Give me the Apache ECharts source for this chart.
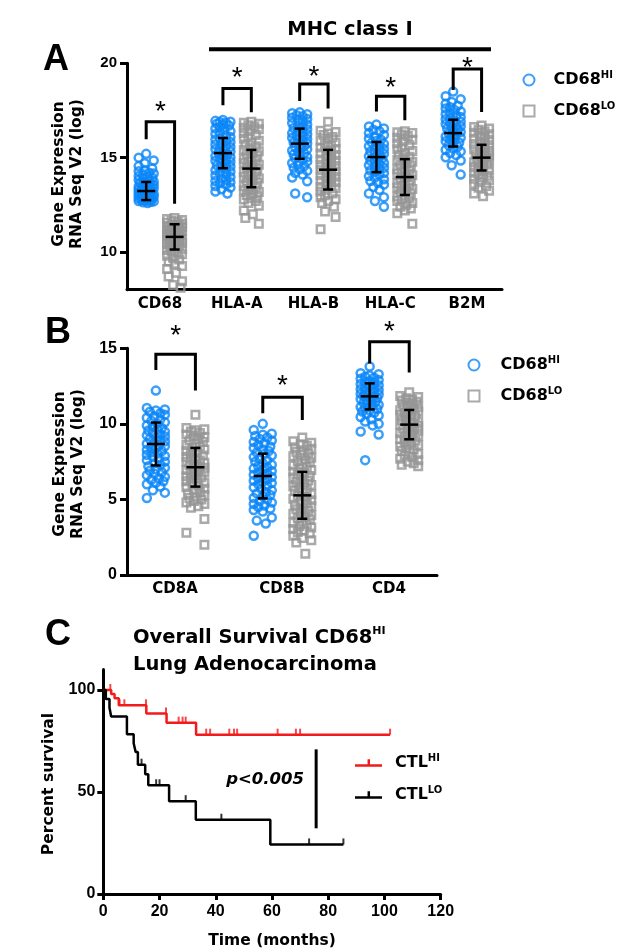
<!DOCTYPE html>
<html><head><meta charset="utf-8">
<script src="https://cdn.jsdelivr.net/npm/echarts@6/dist/echarts.min.js"></script>
<style>html,body{margin:0;padding:0;background:#fff}#c{width:619px;height:951px}</style>
</head><body><div id="c"></div>
<script>
// ================= DATA =================
// Panel A: MHC class I / CD68 expression (log RNA-seq)
const catsA = ['CD68', 'HLA-A', 'HLA-B', 'HLA-C', 'B2M'];
const hiCD68 = [15.2,15.0,14.85,14.7,14.55,14.42,14.35,14.28,14.2,14.16,14.1,14.02,13.97,13.93,13.88,13.82,13.79,13.74,13.7,13.66,13.63,13.58,13.55,13.51,13.47,13.44,13.41,13.37,13.34,13.31,13.29,13.26,13.23,13.2,13.18,13.15,13.13,13.1,13.07,13.05,13.02,13.0,12.97,12.95,12.93,12.9,12.88,12.85,12.83,12.8,12.78,12.75,12.73,12.7,12.68,12.66,12.63,12.6];
const loCD68 = [11.8,11.75,11.7,11.66,11.6,11.55,11.5,11.46,11.43,11.38,11.35,11.31,11.27,11.24,11.2,11.17,11.13,11.1,11.07,11.03,11.0,10.97,10.93,10.9,10.86,10.83,10.8,10.76,10.72,10.69,10.65,10.62,10.58,10.54,10.5,10.46,10.42,10.37,10.33,10.28,10.22,10.16,10.1,10.03,9.96,9.88,9.8,9.7,9.6,9.5,9.38,9.25,9.1,8.9,8.7,8.45,8.25,8.1];
const hiHLAA = [17.0,16.95,16.9,16.88,16.85,16.8,16.75,16.7,16.62,16.55,16.48,16.4,16.32,16.25,16.18,16.1,16.03,15.96,15.9,15.83,15.76,15.7,15.63,15.57,15.5,15.44,15.38,15.32,15.26,15.2,15.14,15.08,15.02,14.96,14.9,14.84,14.78,14.72,14.66,14.6,14.53,14.46,14.4,14.33,14.26,14.19,14.12,14.05,13.98,13.9,13.83,13.76,13.7,13.64,13.58,13.5,13.42,13.32,13.2,13.1];
const loHLAA = [16.9,16.85,16.8,16.72,16.65,16.58,16.5,16.4,16.3,16.2,16.1,16.0,15.9,15.8,15.7,15.6,15.5,15.42,15.34,15.26,15.18,15.1,15.02,14.94,14.86,14.78,14.7,14.62,14.54,14.46,14.38,14.3,14.22,14.14,14.06,13.98,13.9,13.82,13.74,13.66,13.58,13.5,13.42,13.34,13.26,13.18,13.1,13.02,12.94,12.86,12.78,12.7,12.6,12.45,12.2,12.0,11.8,11.5];
const hiHLAB = [17.4,17.35,17.3,17.25,17.2,17.12,17.05,16.98,16.9,16.84,16.76,16.7,16.63,16.57,16.5,16.44,16.37,16.3,16.24,16.18,16.12,16.05,15.99,15.93,15.87,15.8,15.75,15.69,15.62,15.56,15.5,15.44,15.38,15.3,15.24,15.17,15.1,15.03,14.96,14.88,14.8,14.72,14.64,14.55,14.47,14.38,14.3,14.2,14.1,13.95,13.75,13.1,12.9];
const loHLAB = [16.9,16.42,16.36,16.28,16.2,16.1,16.0,15.9,15.8,15.7,15.62,15.54,15.46,15.38,15.3,15.22,15.14,15.06,14.98,14.9,14.83,14.76,14.69,14.62,14.55,14.48,14.41,14.34,14.27,14.2,14.13,14.06,13.99,13.92,13.85,13.78,13.7,13.62,13.54,13.46,13.38,13.3,13.2,13.1,13.0,12.9,12.8,12.7,12.6,12.4,12.15,11.85,11.2];
const hiHLAC = [16.75,16.65,16.55,16.48,16.4,16.3,16.2,16.1,16.02,15.95,15.88,15.8,15.73,15.66,15.6,15.53,15.46,15.4,15.33,15.27,15.2,15.14,15.08,15.02,14.96,14.9,14.84,14.78,14.72,14.66,14.6,14.53,14.46,14.39,14.32,14.25,14.18,14.1,14.02,13.94,13.85,13.76,13.67,13.58,13.45,13.3,13.1,12.9,12.7,12.4];
const loHLAC = [16.4,16.35,16.3,16.22,16.15,16.05,15.95,15.85,15.75,15.65,15.55,15.45,15.35,15.25,15.15,15.05,14.96,14.87,14.78,14.7,14.62,14.54,14.46,14.38,14.3,14.22,14.14,14.06,13.98,13.9,13.82,13.74,13.66,13.58,13.5,13.42,13.34,13.26,13.18,13.1,13.02,12.94,12.86,12.78,12.7,12.6,12.5,12.4,12.3,12.2,12.05,11.5];
const hiB2M = [18.5,18.25,18.1,17.95,17.85,17.75,17.67,17.6,17.52,17.45,17.38,17.3,17.23,17.16,17.1,17.03,16.97,16.9,16.84,16.78,16.72,16.66,16.6,16.54,16.48,16.42,16.36,16.3,16.24,16.18,16.12,16.06,16.0,15.94,15.87,15.8,15.73,15.66,15.58,15.5,15.42,15.33,15.24,15.14,15.02,14.85,14.6,14.1];
const loB2M = [16.7,16.62,16.55,16.48,16.4,16.32,16.24,16.16,16.08,16.0,15.93,15.86,15.79,15.72,15.65,15.58,15.51,15.44,15.37,15.3,15.24,15.18,15.12,15.06,15.0,14.94,14.88,14.82,14.76,14.7,14.63,14.56,14.49,14.42,14.35,14.28,14.2,14.12,14.04,13.96,13.88,13.8,13.7,13.6,13.5,13.4,13.25,13.1,12.95];
const hiMeanA = [13.23, 15.24, 15.74, 15.03, 16.30];
const hiSdA   = [0.48, 0.80, 0.80, 0.80, 0.71];
const loMeanA = [10.80, 14.42, 14.36, 13.97, 15.00];
const loSdA   = [0.67, 0.99, 1.05, 0.95, 0.68];
// bracket: [top, left leg end, right leg end, asterisk]
const bracketA = [[16.9,15.97,12.56,17.7],[18.66,17.77,17.4,19.5],[18.9,18.0,17.6,19.6],[18.25,17.45,16.98,19.0],[19.7,18.58,17.42,20.03]];
const ticksA = [10, 15, 20];

// Panel B: T-cell markers
const catsB = ['CD8A', 'CD8B', 'CD4'];
const hiCD8A = [12.2,11.05,10.95,10.88,10.8,10.7,10.6,10.5,10.4,10.3,10.2,10.1,10.0,9.9,9.8,9.72,9.64,9.56,9.48,9.4,9.32,9.24,9.16,9.08,9.0,8.92,8.84,8.76,8.68,8.6,8.52,8.44,8.36,8.28,8.2,8.12,8.04,7.96,7.88,7.8,7.7,7.6,7.5,7.4,7.3,7.2,7.1,7.0,6.9,6.8,6.7,6.6,6.5,6.4,6.3,6.2,6.1,6.0,5.85,5.6,5.45,5.1];
const loCD8A = [10.6,9.72,9.65,9.58,9.5,9.4,9.3,9.2,9.1,9.0,8.9,8.8,8.7,8.6,8.5,8.4,8.3,8.2,8.1,8.0,7.9,7.82,7.74,7.66,7.58,7.5,7.42,7.34,7.26,7.18,7.1,7.02,6.94,6.86,6.78,6.7,6.62,6.54,6.46,6.38,6.3,6.2,6.1,6.0,5.9,5.8,5.7,5.6,5.5,5.4,5.3,5.2,5.1,5.0,4.9,4.8,4.7,4.55,4.45,3.7,2.8,2.0];
const hiCD8B = [10.0,9.6,9.35,9.28,9.2,9.1,9.0,8.9,8.8,8.7,8.6,8.5,8.4,8.3,8.2,8.1,8.0,7.9,7.8,7.7,7.6,7.5,7.4,7.3,7.2,7.12,7.04,6.96,6.88,6.8,6.72,6.64,6.56,6.48,6.4,6.32,6.24,6.16,6.08,6.0,5.9,5.8,5.7,5.6,5.5,5.4,5.3,5.2,5.1,5.0,4.9,4.8,4.7,4.6,4.5,4.4,4.3,4.2,3.8,3.6,3.4,2.6];
const loCD8B = [9.1,8.85,8.75,8.65,8.55,8.45,8.35,8.25,8.15,8.05,7.95,7.85,7.75,7.65,7.55,7.45,7.35,7.25,7.15,7.05,6.95,6.85,6.75,6.65,6.55,6.45,6.35,6.25,6.15,6.05,5.95,5.85,5.75,5.65,5.55,5.45,5.35,5.25,5.15,5.05,4.95,4.85,4.75,4.65,4.55,4.45,4.35,4.25,4.15,4.05,3.95,3.85,3.75,3.65,3.55,3.45,3.35,3.25,3.15,3.05,2.95,2.85,2.75,2.6,2.45,2.3,2.15,1.4];
const hiCD4 = [13.8,13.35,13.28,13.2,13.12,13.05,12.98,12.9,12.83,12.76,12.7,12.63,12.56,12.5,12.43,12.36,12.3,12.24,12.18,12.12,12.06,12.0,11.94,11.88,11.82,11.76,11.7,11.64,11.58,11.52,11.46,11.4,11.33,11.26,11.19,11.12,11.05,10.98,10.9,10.82,10.74,10.65,10.55,10.45,10.3,10.15,10.0,9.9,9.5,9.3,7.6];
const loCD4 = [12.1,11.85,11.78,11.7,11.62,11.54,11.46,11.38,11.3,11.22,11.14,11.06,10.98,10.9,10.82,10.74,10.66,10.58,10.5,10.42,10.34,10.26,10.18,10.1,10.02,9.94,9.86,9.78,9.7,9.62,9.54,9.46,9.38,9.3,9.22,9.14,9.06,8.98,8.9,8.8,8.7,8.6,8.5,8.4,8.3,8.2,8.1,8.0,7.9,7.8,7.7,7.6,7.5,7.4,7.3,7.2];
const hiMeanB = [8.67, 6.55, 11.82];
const hiSdB   = [1.42, 1.48, 0.86];
const loMeanB = [7.13, 5.27, 9.95];
const loSdB   = [1.28, 1.55, 0.97];
const bracketB = [[14.6,13.57,12.2,16.2],[11.76,10.7,10.26,12.9],[15.44,14.0,13.4,16.45]];
const ticksB = [0, 5, 10, 15];

// Panel C: Kaplan-Meier (time in months, percent survival)
const ctlHiCurve = [[0,100],[2.8,98],[4,96],[5.5,92.5],[15.3,88.5],[22.5,84],[33,78.1],[102,78.1]];
const ctlLoCurve = [[0,100],[0.9,95.6],[2.2,91.3],[2.8,87],[8.4,78.3],[10.8,73.9],[11.5,69.6],[12.3,63.4],[14.9,58.7],[16,53.3],[23.4,45.5],[32.9,36.4],[59.4,24.3],[85.4,24.3]];
const ctlHiCensor = [[2.5,100],[5.8,92.5],[7.5,92.5],[15.2,92.5],[22.3,88.5],[26.8,84],[28.2,84],[29.3,84],[36.6,78.1],[38,78.1],[44.8,78.1],[46.5,78.1],[47.6,78.1],[62,78.1],[68.5,78.1],[70,78.1],[102,78.1]];
const ctlLoCensor = [[13.6,63.4],[18.8,53.3],[20,53.3],[29.3,45.5],[42,36.4],[73.2,24.3],[85.4,24.3]];
const pBar = [[75.7, 70.9, 32.2]];
const ticksC = [0, 50, 100];

// ================= STYLE / LAYOUT =================
const BLUE = '#0a86f7', GREY = '#959595', RED = '#f21a1a';
const WF = '"DejaVu Sans", sans-serif';
const NF = '"Liberation Sans", Arial, sans-serif';
const GA = {left:127, top:63.3, width:375, height:226.4};
const GB = {left:127, top:348.3, width:310, height:226.7};
const GC = {left:103.3, top:669.6, width:337.4, height:224.4};
const AX = {min:-0.43, max:4.456}, AY = {min:8, max:20};
const BX = {min:-0.45, max:2.45}, BY = {min:0, max:15};
const OFF_HI = -0.18, OFF_LO = 0.19;

// deterministic beeswarm layout: horizontal pixel offsets only
function swarm(vals, pxUnit, halfW) {
  const cands = [0];
  for (let k = 1.5; k <= halfW + 1e-6; k += 1.5) cands.push(-k, k);
  const placed = [], offs = [];
  vals.forEach(v => {
    const py = -v * pxUnit;
    let best = 0, bestD = -1;
    for (const c of cands) {
      let dmin = Infinity;
      for (const p of placed) { const d = Math.hypot(p[0] - py, p[1] - c); if (d < dmin) dmin = d; }
      if (dmin > bestD + 1e-9) { bestD = dmin; best = c; }
    }
    placed.push([py, best]); offs.push(best);
  });
  return offs;
}
function dots(groups, off, pxUnit, halfW) {
  const out = [];
  groups.forEach((vals, i) => {
    const o = swarm(vals, pxUnit, halfW);
    vals.forEach((v, k) => out.push({value: [i + off, v], symbolOffset: [o[k], 0]}));
  });
  return out;
}
function errRender(params, api) {
  const x = api.value(0), m = api.value(1), s = api.value(2);
  const c = api.coord([x, m]), t = api.coord([x, m + s]), b = api.coord([x, m - s]);
  const st = {stroke: '#000', lineWidth: 2.5};
  return {type: 'group', children: [
    {type: 'line', shape: {x1: c[0], y1: t[1], x2: c[0], y2: b[1]}, style: st},
    {type: 'line', shape: {x1: c[0] - 9, y1: c[1], x2: c[0] + 9, y2: c[1]}, style: st},
    {type: 'line', shape: {x1: c[0] - 5, y1: t[1], x2: c[0] + 5, y2: t[1]}, style: st},
    {type: 'line', shape: {x1: c[0] - 5, y1: b[1], x2: c[0] + 5, y2: b[1]}, style: st}
  ]};
}
function bracketRender(params, api) {
  const i = api.value(0), top = api.value(1), lb = api.value(2), rb = api.value(3), sy = api.value(4);
  const pl = api.coord([i + OFF_HI, lb]), pr = api.coord([i + OFF_LO, rb]);
  const pt = api.coord([i, top]), ps = api.coord([i + (OFF_HI + OFF_LO) / 2, sy]);
  return {type: 'group', children: [
    {type: 'polyline', shape: {points: [pl, [pl[0], pt[1]], [pr[0], pt[1]], pr]},
     style: {stroke: '#000', lineWidth: 3, fill: 'none'}},
    {type: 'text', x: ps[0], y: ps[1] + 6,
     style: {text: '*', fill: '#000', font: '28px ' + NF, align: 'center', verticalAlign: 'middle'}}
  ]};
}
function labelRender(cats) {
  return function (params, api) {
    const p = api.coord([api.value(0), api.value(1)]);
    return {type: 'text', x: p[0], y: p[1] + 7,
      style: {text: cats[params.dataIndex], fill: '#000', font: 'bold 15px ' + WF, align: 'center', verticalAlign: 'top'}};
  };
}
function pRender(params, api) {
  const a = api.coord([api.value(0), api.value(1)]), b = api.coord([api.value(0), api.value(2)]);
  return {type: 'line', shape: {x1: a[0], y1: a[1], x2: b[0], y2: b[1]}, style: {stroke: '#000', lineWidth: 3}};
}
const axisLineS = {show: true, onZero: false, lineStyle: {color: '#000', width: 3}};
const richSup = {
  m: {fontFamily: WF, fontWeight: 'bold', fontSize: 16, lineHeight: 20, color: '#000'},
  s: {fontFamily: WF, fontWeight: 'bold', fontSize: 10, verticalAlign: 'top', color: '#000'}
};
function supFmt(name) { return '{m|' + name.replace(/(HI|LO)$/, '') + '}{s|' + name.match(/(HI|LO)$/)[0] + '}'; }

const pxA = GA.height / (AY.max - AY.min), pxB = GB.height / (BY.max - BY.min);
const hiA = [hiCD68, hiHLAA, hiHLAB, hiHLAC, hiB2M], loA = [loCD68, loHLAA, loHLAB, loHLAC, loB2M];
const hiB = [hiCD8A, hiCD8B, hiCD4], loB = [loCD8A, loCD8B, loCD4];
const circleStyle = {color: 'rgba(0,0,0,0)', borderColor: BLUE, borderWidth: 2.5};
const squareStyle = {color: 'rgba(0,0,0,0)', borderColor: GREY, borderWidth: 2.5};

const option = {
  animation: false,
  backgroundColor: '#fff',
  grid: [GA, GB, GC],
  xAxis: [
    {type: 'value', gridIndex: 0, min: AX.min, max: AX.max, axisLine: axisLineS, axisTick: {show: false}, axisLabel: {show: false}, splitLine: {show: false}},
    {type: 'value', gridIndex: 1, min: BX.min, max: BX.max, axisLine: axisLineS, axisTick: {show: false}, axisLabel: {show: false}, splitLine: {show: false}},
    {type: 'value', gridIndex: 2, min: 0, max: 120, interval: 20, axisLine: axisLineS,
     axisTick: {length: 6, lineStyle: {color: '#000', width: 3}},
     axisLabel: {color: '#000', fontFamily: NF, fontWeight: 'bold', fontSize: 16, margin: 10}, splitLine: {show: false}}
  ],
  yAxis: [
    {type: 'value', gridIndex: 0, min: AY.min, max: AY.max, axisLine: axisLineS,
     axisTick: {customValues: ticksA, length: 7, lineStyle: {color: '#000', width: 3}},
     axisLabel: {customValues: ticksA, color: '#000', fontFamily: NF, fontWeight: 'bold', fontSize: 15, margin: 10}, splitLine: {show: false}},
    {type: 'value', gridIndex: 1, min: BY.min, max: BY.max, axisLine: axisLineS,
     axisTick: {customValues: ticksB, length: 7, lineStyle: {color: '#000', width: 3}},
     axisLabel: {customValues: ticksB, color: '#000', fontFamily: NF, fontWeight: 'bold', fontSize: 16, margin: 10}, splitLine: {show: false}},
    {type: 'value', gridIndex: 2, min: 0, max: 110, axisLine: axisLineS,
     axisTick: {customValues: ticksC, length: 6, lineStyle: {color: '#000', width: 3}},
     axisLabel: {customValues: ticksC, color: '#000', fontFamily: NF, fontWeight: 'bold', fontSize: 16, margin: 8}, splitLine: {show: false}}
  ],
  legend: [
    {left: 517.5, top: 65, orient: 'vertical', itemWidth: 11, itemHeight: 11, itemGap: 13, selectedMode: false,
     data: [{name: 'CD68HI', icon: 'circle'}, {name: 'CD68LO', icon: 'rect'}],
     formatter: supFmt, textStyle: {rich: richSup, padding: [0, 0, 0, 14]}},
    {left: 462.5, top: 350, orient: 'vertical', itemWidth: 11, itemHeight: 11, itemGap: 13, selectedMode: false,
     data: [{name: 'CD68HI', icon: 'circle'}, {name: 'CD68LO', icon: 'rect'}],
     formatter: supFmt, textStyle: {rich: richSup, padding: [0, 0, 0, 16]}},
    {left: 350, top: 748, orient: 'vertical', itemWidth: 27, itemHeight: 8, itemGap: 14, selectedMode: false,
     data: [{name: 'CTLHI', icon: 'path://M0,5h28v2.6h-28z M13,0h2.6v6h-2.6z'}, {name: 'CTLLO', icon: 'path://M0,5h28v2.6h-28z M13,0h2.6v6h-2.6z'}],
     formatter: supFmt, textStyle: {rich: richSup, padding: [0, 0, 0, 8]}}
  ],
  series: [
    // Panel A
    {name: 'CD68HI', type: 'scatter', xAxisIndex: 0, yAxisIndex: 0, symbol: 'circle', symbolSize: 8, itemStyle: circleStyle, data: dots(hiA, OFF_HI, pxA, 8), z: 2},
    {name: 'CD68LO', type: 'scatter', xAxisIndex: 0, yAxisIndex: 0, symbol: 'rect', symbolSize: 7.5, itemStyle: squareStyle, data: dots(loA, OFF_LO, pxA, 8), z: 2},
    {type: 'custom', xAxisIndex: 0, yAxisIndex: 0, renderItem: errRender, clip: false, z: 5,
     data: hiMeanA.map((m, i) => [i + OFF_HI, m, hiSdA[i]]).concat(loMeanA.map((m, i) => [i + OFF_LO, m, loSdA[i]]))},
    {type: 'custom', xAxisIndex: 0, yAxisIndex: 0, renderItem: bracketRender, clip: false, z: 5,
     data: bracketA.map((b, i) => [i].concat(b))},
    {type: 'custom', xAxisIndex: 0, yAxisIndex: 0, renderItem: labelRender(catsA), clip: false,
     data: catsA.map((c, i) => [i, AY.min])},
    // Panel B
    {name: 'CD68HI', type: 'scatter', xAxisIndex: 1, yAxisIndex: 1, symbol: 'circle', symbolSize: 8, itemStyle: circleStyle, data: dots(hiB, OFF_HI, pxB, 9), z: 2},
    {name: 'CD68LO', type: 'scatter', xAxisIndex: 1, yAxisIndex: 1, symbol: 'rect', symbolSize: 7.5, itemStyle: squareStyle, data: dots(loB, OFF_LO, pxB, 9), z: 2},
    {type: 'custom', xAxisIndex: 1, yAxisIndex: 1, renderItem: errRender, clip: false, z: 5,
     data: hiMeanB.map((m, i) => [i + OFF_HI, m, hiSdB[i]]).concat(loMeanB.map((m, i) => [i + OFF_LO, m, loSdB[i]]))},
    {type: 'custom', xAxisIndex: 1, yAxisIndex: 1, renderItem: bracketRender, clip: false, z: 5,
     data: bracketB.map((b, i) => [i].concat(b))},
    {type: 'custom', xAxisIndex: 1, yAxisIndex: 1, renderItem: labelRender(catsB), clip: false,
     data: catsB.map((c, i) => [i, BY.min])},
    // Panel C
    {name: 'CTLHI', type: 'line', xAxisIndex: 2, yAxisIndex: 2, step: 'end', symbol: 'none', color: RED,
     lineStyle: {color: RED, width: 2.5}, itemStyle: {color: RED}, data: ctlHiCurve, z: 3},
    {name: 'CTLLO', type: 'line', xAxisIndex: 2, yAxisIndex: 2, step: 'end', symbol: 'none', color: '#000',
     lineStyle: {color: '#000', width: 2.5}, itemStyle: {color: '#000'}, data: ctlLoCurve, z: 3},
    {name: 'CTLHI', type: 'scatter', xAxisIndex: 2, yAxisIndex: 2, symbol: 'rect', symbolSize: [2, 6], symbolOffset: [0, -3],
     itemStyle: {color: RED}, data: ctlHiCensor, z: 3},
    {name: 'CTLLO', type: 'scatter', xAxisIndex: 2, yAxisIndex: 2, symbol: 'rect', symbolSize: [2, 6], symbolOffset: [0, -3],
     itemStyle: {color: '#000'}, data: ctlLoCensor, z: 3},
    {type: 'custom', xAxisIndex: 2, yAxisIndex: 2, renderItem: pRender, clip: false, data: pBar}
  ],
  graphic: [
    {type: 'text', x: 43, y: 60, style: {text: 'A', font: 'bold 36px ' + NF, fill: '#000', verticalAlign: 'middle'}},
    {type: 'text', x: 45, y: 333, style: {text: 'B', font: 'bold 36px ' + NF, fill: '#000', verticalAlign: 'middle'}},
    {type: 'text', x: 45, y: 635, style: {text: 'C', font: 'bold 36px ' + NF, fill: '#000', verticalAlign: 'middle'}},
    {type: 'text', x: 350, y: 30, style: {text: 'MHC class I', font: 'bold 19.5px ' + WF, fill: '#000', align: 'center', verticalAlign: 'middle'}},
    {type: 'rect', shape: {x: 209, y: 47.3, width: 282, height: 4}, style: {fill: '#000'}},
    {type: 'text', x: 68, y: 174, rotation: Math.PI / 2,
     style: {text: 'Gene Expression\nRNA Seq V2 (log)', font: 'bold 15.5px ' + WF, lineHeight: 18, fill: '#000', align: 'center', verticalAlign: 'middle'}},
    {type: 'text', x: 68.5, y: 464, rotation: Math.PI / 2,
     style: {text: 'Gene Expression\nRNA Seq V2 (log)', font: 'bold 15.5px ' + WF, lineHeight: 18, fill: '#000', align: 'center', verticalAlign: 'middle'}},
    {type: 'text', x: 133, y: 638, style: {text: '{t|Overall Survival CD68}{s|HI}', fill: '#000', verticalAlign: 'middle',
     rich: {t: {fontFamily: WF, fontWeight: 'bold', fontSize: 19.5, lineHeight: 24}, s: {fontFamily: WF, fontWeight: 'bold', fontSize: 11, verticalAlign: 'top'}}}},
    {type: 'text', x: 133, y: 665, style: {text: 'Lung Adenocarcinoma', font: 'bold 19.5px ' + WF, fill: '#000', verticalAlign: 'middle'}},
    {type: 'text', x: 49, y: 784, rotation: Math.PI / 2,
     style: {text: 'Percent survival', font: 'bold 15.5px ' + WF, fill: '#000', align: 'center', verticalAlign: 'middle'}},
    {type: 'text', x: 272, y: 941, style: {text: 'Time (months)', font: 'bold 15.5px ' + WF, fill: '#000', align: 'center', verticalAlign: 'middle'}},
    {type: 'text', x: 304, y: 780, style: {text: 'p<0.005', font: 'italic bold 16.5px ' + WF, fill: '#000', align: 'right', verticalAlign: 'middle'}}
  ]
};
const chart = echarts.init(document.getElementById('c'), null, {renderer: 'canvas'});
chart.setOption(option);
</script>
</body></html>
